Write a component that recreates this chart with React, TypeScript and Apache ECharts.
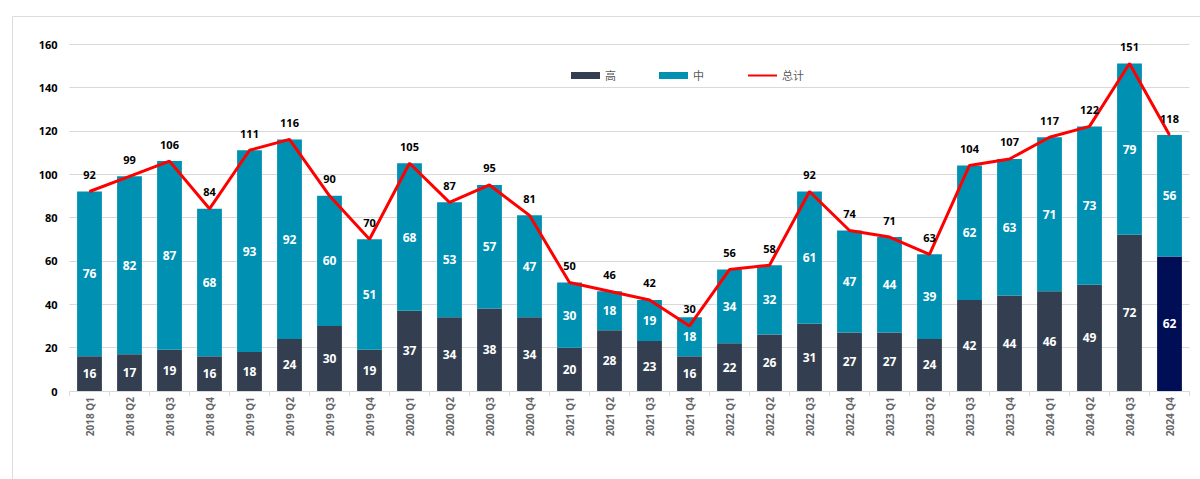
import React, { useEffect, useRef } from "react";
import * as echarts from "echarts";

const categories = [
  "2018 Q1", "2018 Q2", "2018 Q3", "2018 Q4",
  "2019 Q1", "2019 Q2", "2019 Q3", "2019 Q4",
  "2020 Q1", "2020 Q2", "2020 Q3", "2020 Q4",
  "2021 Q1", "2021 Q2", "2021 Q3", "2021 Q4",
  "2022 Q1", "2022 Q2", "2022 Q3", "2022 Q4",
  "2023 Q1", "2023 Q2", "2023 Q3", "2023 Q4",
  "2024 Q1", "2024 Q2", "2024 Q3", "2024 Q4",
];
const high = [16, 17, 19, 16, 18, 24, 30, 19, 37, 34, 38, 34, 20, 28, 23, 16, 22, 26, 31, 27, 27, 24, 42, 44, 46, 49, 72, 62];
const mid = [76, 82, 87, 68, 93, 92, 60, 51, 68, 53, 57, 47, 30, 18, 19, 18, 34, 32, 61, 47, 44, 39, 62, 63, 71, 73, 79, 56];
const total = [92, 99, 106, 84, 111, 116, 90, 70, 105, 87, 95, 81, 50, 46, 42, 30, 56, 58, 92, 74, 71, 63, 104, 107, 117, 122, 151, 118];
const seriesNames = ["高", "中", "总计"];

const FONT = "'Open Sans', 'Noto Sans CJK SC', sans-serif";

export default function App() {
  const ref = useRef<HTMLDivElement>(null);
  useEffect(() => {
    if (!ref.current) return;
    const chart = echarts.init(ref.current, undefined, { renderer: "svg" });
    const highData = high.map((v, i) =>
      i === high.length - 1 ? { value: v, itemStyle: { color: "#000E55" } } : v
    );
    chart.setOption({
      animation: false,
      graphic: [
        {
          type: "rect",
          left: 10,
          top: 14,
          shape: { width: 1200, height: 480 },
          style: { fill: "none", stroke: "#dcdcdc", lineWidth: 1 },
          silent: true,
        },
      ],
      legend: {
        data: [
          { name: seriesNames[0], icon: "rect" },
          { name: seriesNames[1], icon: "rect" },
          { name: seriesNames[2], itemStyle: { opacity: 0 } },
        ],
        top: 65,
        left: 566,
        itemWidth: 29,
        itemHeight: 7,
        itemGap: 43,
        textStyle: { color: "#595959", fontSize: 11, fontFamily: FONT },
      },
      grid: { left: 69.5, right: 10.5, top: 44, bottom: 88, containLabel: false },
      xAxis: {
        type: "category",
        data: categories,
        axisLine: { lineStyle: { color: "#d9d9d9" } },
        axisTick: { show: true, lineStyle: { color: "#d9d9d9" }, length: 5 },
        axisLabel: {
          rotate: 90,
          color: "#666",
          fontSize: 10,
          fontWeight: "bold",
          fontFamily: FONT,
          interval: 0,
          margin: 6,
        },
      },
      yAxis: {
        type: "value",
        min: 0,
        max: 160,
        interval: 20,
        axisLine: { show: false },
        axisTick: { show: false },
        splitLine: { lineStyle: { color: "#d9d9d9" } },
        axisLabel: { color: "#000", fontSize: 11, fontWeight: "bold", fontFamily: FONT, margin: 12 },
      },
      series: [
        {
          name: seriesNames[0],
          type: "bar",
          stack: "s",
          data: highData,
          barWidth: "62%",
          itemStyle: { color: "#333F50" },
          label: {
            show: true,
            position: "inside",
            color: "#fff",
            fontSize: 12,
            fontWeight: "bold",
            fontFamily: FONT,
          },
        },
        {
          name: seriesNames[1],
          type: "bar",
          stack: "s",
          data: mid,
          barWidth: "62%",
          itemStyle: { color: "#0090B2" },
          label: {
            show: true,
            position: "inside",
            color: "#fff",
            fontSize: 12,
            fontWeight: "bold",
            fontFamily: FONT,
          },
        },
        {
          name: seriesNames[2],
          type: "line",
          data: total,
          symbol: "circle",
          symbolSize: 1,
          showSymbol: true,
          lineStyle: { color: "#FF0000", width: 3 },
          itemStyle: { color: "#FF0000" },
          label: {
            show: true,
            position: "top",
            distance: 11,
            color: "#000",
            fontSize: 11,
            fontWeight: "bold",
            fontFamily: FONT,
          },
          labelLayout: { hideOverlap: false },
          z: 5,
        },
      ],
    });
    return () => chart.dispose();
  }, []);
  return (
    <div
      ref={ref}
      style={{ position: "absolute", left: 0, top: 0, width: 1200, height: 479, background: "#fff" }}
    />
  );
}
